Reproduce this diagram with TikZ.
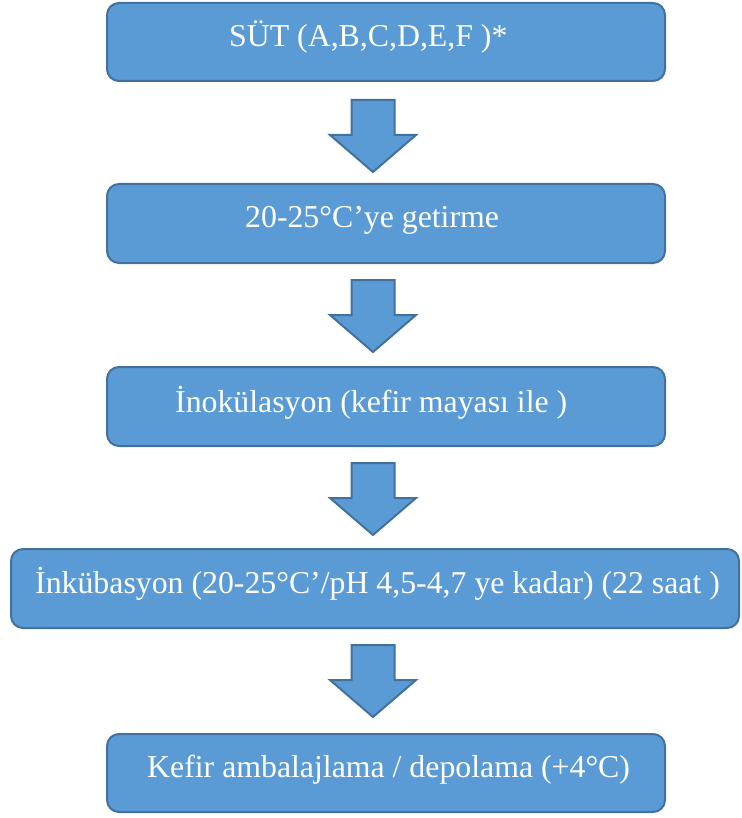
\documentclass[tikz,border=0pt]{standalone}
\usepackage{fontspec}
\setmainfont{Liberation Serif}
\definecolor{boxfill}{HTML}{5B9BD5}
\definecolor{boxline}{HTML}{41719C}
\tikzset{
  flowbox/.style={draw=boxline, fill=boxfill, line width=2pt, rounded corners=12pt},
  flowtext/.style={anchor=base west, inner sep=0pt, text=white, font=\fontsize{31.8}{36}\selectfont},
  blockarrow/.style={draw=boxline, fill=boxfill, line width=2pt, line join=miter},
  pics/downarrow/.style={code={
    \draw[blockarrow] (-21.5,0) -- (21.5,0) -- (21.5,35) -- (43,35) -- (0,72) -- (-43,35) -- (-21.5,35) -- cycle;
  }}
}
\begin{document}
\begin{tikzpicture}[x=1pt,y=-1pt]
\useasboundingbox (0,0) rectangle (741,818);
% boxes
\draw[flowbox] (107,3) rectangle (665,81);
\draw[flowbox] (107,184) rectangle (665,263);
\draw[flowbox] (107,367) rectangle (665,446);
\draw[flowbox] (11,549) rectangle (739,628);
\draw[flowbox] (107,734) rectangle (665,812);
% texts
\node[flowtext] (t1) at (229,47) {SÜT (A,B,C,D,E,F )*};
\node[flowtext] (t2) at (245,228) {20-25°C’ye getirme};
\node[flowtext] (t3) at (175,412) {İnokülasyon (kefir mayası ile )};
\node[flowtext] (t4) at (35,593) {İnkübasyon (20-25°C’/pH 4,5-4,7 ye kadar) (22 saat )};
\node[flowtext] (t5) at (147,777) {Kefir ambalajlama / depolama (+4°C)};
% arrows
\pic at (373,100) {downarrow};
\pic at (373,280) {downarrow};
\pic at (373,463) {downarrow};
\pic at (373,645) {downarrow};
\end{tikzpicture}
\end{document}
